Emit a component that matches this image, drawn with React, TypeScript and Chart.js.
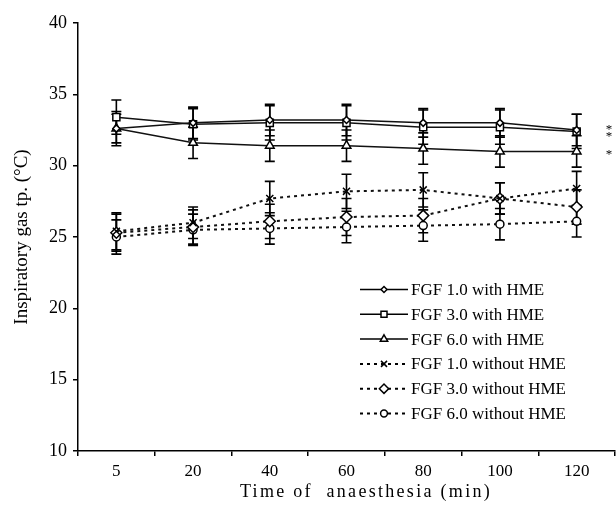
import React, { useEffect, useRef } from 'react';
import { Chart, registerables } from 'chart.js';
import { drawPoint } from 'chart.js/helpers';

Chart.register(...registerables);

// ---- Data ----
const timeLabels = ['5', '20', '40', '60', '80', '100', '120'];

const seriesNames = [
  'FGF 1.0 with HME',
  'FGF 3.0 with HME',
  'FGF 6.0 with HME',
  'FGF 1.0 without HME',
  'FGF 3.0 without HME',
  'FGF 6.0 without HME',
];

const fgf1With = [32.6, 33.0, 33.2, 33.2, 33.0, 33.0, 32.5];
const fgf3With = [33.4, 32.9, 33.0, 33.0, 32.7, 32.7, 32.4];
const fgf6With = [32.6, 31.6, 31.4, 31.4, 31.2, 31.0, 31.0];
const fgf1Without = [25.4, 26.0, 27.7, 28.2, 28.3, 27.7, 28.4];
const fgf3Without = [25.3, 25.7, 26.1, 26.4, 26.5, 27.7, 27.1];
const fgf6Without = [25.0, 25.5, 25.6, 25.7, 25.8, 25.9, 26.1];

const err1With = [1.0, 1.1, 1.1, 1.1, 1.0, 1.0, 1.1];
const err3With = [1.2, 1.1, 1.2, 1.2, 1.2, 1.2, 1.2];
const err6With = [1.2, 1.1, 1.1, 1.1, 1.1, 1.1, 1.1];
const err1Without = [1.3, 1.1, 1.2, 1.2, 1.2, 1.1, 1.2];
const err3Without = [1.3, 1.2, 1.2, 1.3, 1.2, 1.1, 1.2];
const err6Without = [1.2, 1.1, 1.1, 1.1, 1.1, 1.1, 1.1];

const endMarks = ['*', '*', '*', '', '', ''];

const yMin = 10;
const yMax = 40;
const yStep = 5;

const xTitle = 'Time of  anaesthesia (min)';
const yTitle = 'Inspiratory gas tp. (\u00B0C)';

// ---- Styles ----
const FONT = '"Liberation Serif", "Times New Roman", serif';
const INK = '#000';

const seriesValues = [fgf1With, fgf3With, fgf6With, fgf1Without, fgf3Without, fgf6Without];
const seriesErrors = [err1With, err3With, err6With, err1Without, err3Without, err6Without];
const pointStyles = ['rectRot', 'rect', 'triangle', 'crossRot', 'rectRot', 'circle'];
const pointRadii = [3.5, 5, 5, 5, 5.5, 4];
const dashed = [false, false, false, true, true, true];
const endMarkDy = [-3, 2, 0, 0, 0, 0];

const errorBarPlugin = {
  id: 'errorBars',
  beforeDatasetsDraw(chart: any) {
    const ctx = chart.ctx;
    const yScale = chart.scales.y;
    ctx.save();
    ctx.strokeStyle = INK;
    ctx.lineWidth = 1.6;
    ctx.setLineDash([]);
    chart.data.datasets.forEach((ds: any, i: number) => {
      const meta = chart.getDatasetMeta(i);
      const errs = seriesErrors[i];
      meta.data.forEach((pt: any, j: number) => {
        const v = ds.data[j];
        const e = errs[j];
        const x = pt.x;
        const yTop = yScale.getPixelForValue(v + e);
        const yBot = yScale.getPixelForValue(v - e);
        ctx.beginPath();
        ctx.moveTo(x, yTop);
        ctx.lineTo(x, yBot);
        ctx.moveTo(x - 5, yTop);
        ctx.lineTo(x + 5, yTop);
        ctx.moveTo(x - 5, yBot);
        ctx.lineTo(x + 5, yBot);
        ctx.stroke();
      });
    });
    ctx.restore();
  },
};

const decorPlugin = {
  id: 'decor',
  afterDraw(chart: any) {
    const ctx = chart.ctx;
    const area = chart.chartArea;
    const yScale = chart.scales.y;
    ctx.save();

    // axis titles
    ctx.fillStyle = INK;
    ctx.font = `18px ${FONT}`;
    ctx.textAlign = 'center';
    ctx.textBaseline = 'middle';
    (ctx as any).letterSpacing = '2.3px';
    ctx.fillText(xTitle, area.left + 288, area.bottom + 41);
    (ctx as any).letterSpacing = '0px';

    ctx.save();
    ctx.font = `19px ${FONT}`;
    ctx.translate(22, 237);
    ctx.rotate(-Math.PI / 2);
    ctx.fillText(yTitle, 0, 0);
    ctx.restore();

    // significance marks at the end of series
    ctx.font = `13px ${FONT}`;
    ctx.textAlign = 'center';
    seriesValues.forEach((vals, i) => {
      if (!endMarks[i]) return;
      const y = yScale.getPixelForValue(vals[vals.length - 1]);
      ctx.fillText(endMarks[i], area.right - 6, y + endMarkDy[i] + 3);
    });

    // legend
    const lx0 = area.left + 282;
    const lx1 = lx0 + 48;
    const ly0 = 289.5;
    const rowH = 24.8;
    chart.data.datasets.forEach((ds: any, i: number) => {
      const y = ly0 + i * rowH;
      ctx.strokeStyle = INK;
      ctx.lineWidth = dashed[i] ? 2 : 1.5;
      ctx.setLineDash(dashed[i] ? [3, 4] : []);
      ctx.beginPath();
      ctx.moveTo(lx0, y);
      ctx.lineTo(lx1, y);
      ctx.stroke();
      ctx.setLineDash([]);
      ctx.fillStyle = '#fff';
      ctx.strokeStyle = INK;
      ctx.lineWidth = 1.5;
      drawPoint(ctx, {
        pointStyle: pointStyles[i],
        radius: pointRadii[i] * 0.85,
        rotation: 0,
        borderWidth: 1.5,
      } as any, (lx0 + lx1) / 2, y);
      ctx.fillStyle = INK;
      ctx.font = `17px ${FONT}`;
      ctx.textAlign = 'left';
      ctx.textBaseline = 'middle';
      ctx.fillText(ds.label, lx1 + 3, y + 1);
    });

    ctx.restore();
  },
};

export default function App() {
  const canvasRef = useRef<HTMLCanvasElement | null>(null);

  useEffect(() => {
    const canvas = canvasRef.current;
    if (!canvas) return;

    const datasets = seriesNames.map((name, i) => ({
      label: name,
      data: seriesValues[i],
      borderColor: '#111',
      borderWidth: dashed[i] ? 2 : 1.5,
      borderDash: dashed[i] ? [3, 4] : [],
      pointStyle: pointStyles[i],
      pointRadius: pointRadii[i],
      pointBackgroundColor: '#fff',
      pointBorderColor: INK,
      pointBorderWidth: 1.5,
      tension: 0,
      fill: false,
    }));

    const chart = new Chart(canvas, {
      type: 'line',
      data: { labels: timeLabels, datasets },
      options: {
        animation: false,
        responsive: false,
        maintainAspectRatio: false,
        layout: { autoPadding: false, padding: { top: 23, right: 1, left: 0, bottom: 0 } },
        plugins: {
          legend: { display: false },
          tooltip: { enabled: false },
          title: { display: false },
        },
        scales: {
          x: {
            type: 'category',
            offset: true,
            grid: {
              display: true,
              drawOnChartArea: false,
              offset: true,
              tickLength: 5,
              color: INK,
              lineWidth: 1.5,
            },
            border: { display: true, color: INK, width: 1.5 },
            ticks: {
              color: INK,
              font: { family: FONT, size: 17 },
              padding: 5,
              maxRotation: 0,
            },
            afterFit(scale: any) {
              scale.height = 67;
            },
          },
          y: {
            min: yMin,
            max: yMax,
            grid: {
              display: true,
              drawOnChartArea: false,
              tickLength: 5,
              color: INK,
              lineWidth: 1.5,
            },
            border: { display: true, color: INK, width: 1.5 },
            ticks: {
              stepSize: yStep,
              color: INK,
              font: { family: FONT, size: 18 },
              padding: 6,
            },
            afterFit(scale: any) {
              scale.width = 78;
            },
          },
        },
      },
      plugins: [errorBarPlugin, decorPlugin],
    } as any);

    return () => chart.destroy();
  }, []);

  return (
    <div style={{ position: 'fixed', left: 0, top: 0, width: 616, height: 518, background: '#fff' }}>
      <canvas ref={canvasRef} width={616} height={518} style={{ width: 616, height: 518, display: 'block' }} />
    </div>
  );
}
